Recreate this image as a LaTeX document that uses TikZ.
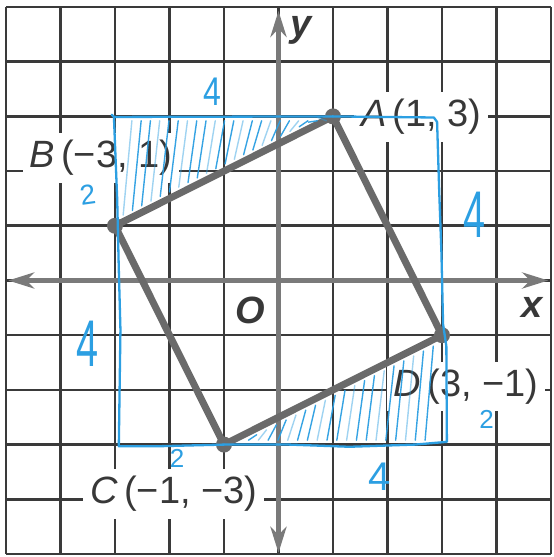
\documentclass[tikz,border=0pt]{standalone}
\usepackage{fontspec}
\setmainfont{Liberation Sans}
\usetikzlibrary{arrows.meta}
\definecolor{gridc}{HTML}{3A3A3A}
\definecolor{axisc}{HTML}{7A7A7A}
\definecolor{segc}{HTML}{6A6A6A}
\definecolor{txtc}{HTML}{383838}
\definecolor{pen}{HTML}{2C9FE2}
\begin{document}
\begin{tikzpicture}[x=54.5pt,y=54.7pt,
  gridline/.style={draw=gridc,line width=2.6pt},
  axisline/.style={draw=axisc,line width=5pt,
    {Stealth[length=26pt,width=16pt,inset=8pt]}-{Stealth[length=26pt,width=16pt,inset=8pt]}},
  ptlabel/.style={fill=white,text=txtc,inner sep=7pt,font=\fontsize{38}{40}\selectfont},
  axlabel/.style={text=txtc,inner sep=0pt,font=\fontsize{38}{40}\selectfont\bfseries\itshape},
  seg/.style={draw=segc,line width=7pt,line cap=round},
  vdot/.style={circle,fill=segc,minimum size=16pt,inner sep=0pt},
  penline/.style={draw=pen,line width=2.3pt,line cap=round,line join=round},
  hatch/.style={draw=pen,line width=1.4pt,line cap=round},
  pennum/.style={text=pen,inner sep=0pt}
]
\useasboundingbox (-5.110,-5.055) rectangle (5.037,5.128);
\fill[white] (-5.110,-5.055) rectangle (5.037,5.128);

% grid
\foreach \i in {-5,...,5} {
  \draw[gridline] (\i,-5) -- (\i,5);
  \draw[gridline] (-5,\i) -- (5,\i);
}

% axes
\coordinate (xl) at (-4.96,0);
\coordinate (xr) at (4.95,0);
\coordinate (yb) at (0,-4.98);
\coordinate (yt) at (0,4.93);
\draw[axisline] (xl) -- (xr);
\draw[axisline] (yb) -- (yt);

% point labels
\node[ptlabel] (la) at (2.62,2.99) {\textit{A}\,(1,\ 3)};
\node[ptlabel] (lb) at (-3.26,2.24) {\textit{B}\,(−3,\ 1)};
\node[ptlabel] (lc) at (-1.92,-3.90) {\textit{C}\,(−1,\ −3)};
\node[ptlabel] (ld) at (3.44,-1.94) {\textit{D}\,(3,\ −1)};

% axis labels
\node[axlabel] (lo) at (-0.52,-0.55) {O};
\node[axlabel] (lx) at (4.65,-0.50) {x};
\node[axlabel] (ly) at (0.41,4.58) {y};

% square
\coordinate (A) at (1,3);
\coordinate (B) at (-3,1);
\coordinate (C) at (-1,-3);
\coordinate (D) at (3,-1);
\draw[seg] (A) -- (B);
\draw[seg] (B) -- (C);
\draw[seg] (C) -- (D);
\draw[seg] (D) -- (A);
\foreach \p in {A,B,C,D} \node[vdot] (v\p) at (\p) {};

% blue annotations: enclosing rectangle
\draw[penline] (-3.06,3.03) -- (-3.02,2.99) -- (A);
\draw[penline] (A) -- (2.85,2.98) -- (2.91,2.90) -- (2.95,1.6) -- (2.99,0.5) -- (3.02,-0.8)
  -- (3.08,-1.2) -- (3.09,-2.95) -- (2.5,-3.0) -- (1.3,-3.04) -- (0.2,-3.0) -- (C);
\draw[penline] (-3.02,3.0) -- (-2.96,1.5) -- (-2.93,0.2) -- (-2.90,-0.9) -- (-2.93,-3.03) -- (-2.2,-3.03) -- (C);

% hatching, top triangle
\foreach \x [count=\i] in {-2.85,-2.68,...,0.75} {
  \pgfmathsetmacro{\op}{mod(\i,3)==1 ? 0.45 : 0.95}
  \draw[hatch,opacity=\op] ({\x},{1+(\x+3)/2+0.12}) -- ({\x+0.16},2.92);
}
% hatching, bottom triangle
\foreach \x [count=\i] in {-0.55,-0.37,...,2.85} {
  \pgfmathsetmacro{\op}{mod(\i,3)==2 ? 0.45 : 0.95}
  \draw[hatch,opacity=\op] ({\x},-2.92) -- ({\x+0.15},{-3+(\x+1.15)/2-0.12});
}

% blue numbers
\node[pennum,font=\fontsize{40}{44}\selectfont,xscale=0.8] (n1) at (-1.22,3.45) {4};
\node[pennum,font=\fontsize{28}{30}\selectfont,rotate=8] (n2) at (-3.50,1.56) {2};
\node[pennum,font=\fontsize{66}{70}\selectfont,xscale=0.6] (n3) at (3.59,1.20) {4};
\node[pennum,font=\fontsize{66}{70}\selectfont,xscale=0.6] (n4) at (-3.50,-1.16) {4};
\node[pennum,font=\fontsize{26}{28}\selectfont] (n5) at (-1.86,-3.25) {2};
\node[pennum,font=\fontsize{26}{28}\selectfont] (n6) at (3.82,-2.54) {2};
\node[pennum,font=\fontsize{40}{44}\selectfont] (n7) at (1.86,-3.58) {4};
\end{tikzpicture}
\end{document}
